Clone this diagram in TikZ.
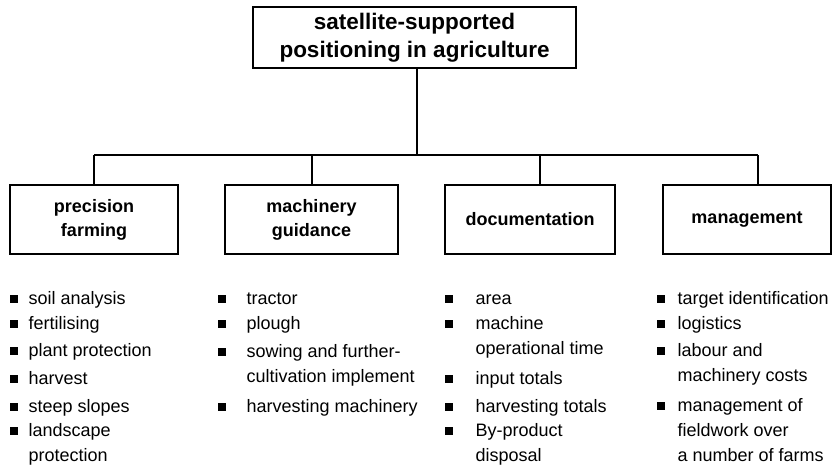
\documentclass[tikz,border=0pt]{standalone}
\usepackage{fontspec}
\setmainfont{Liberation Sans}

\begin{document}
\begin{tikzpicture}[x=1pt,y=-1pt,line width=1.1pt,
    topbox/.style={draw, minimum width=323pt, minimum height=61pt, align=center,
      font=\fontsize{22.5}{28}\selectfont\bfseries},
    catbox/.style={draw, minimum height=69pt, align=center,
      font=\fontsize{18}{24}\selectfont\bfseries},
    item/.style={anchor=base west, align=left, inner sep=0pt,
      font=\fontsize{18}{25}\selectfont}]
      \useasboundingbox (0,0) rectangle (834,466);
      \def\skip{25}

      \node[topbox] (root) at (414.5,37.5) {satellite-supported\\positioning in agriculture};

      \node[catbox, minimum width=168pt] (pf)  at (94,219.5)  {precision\\farming};
      \node[catbox, minimum width=173pt] (mg)  at (311.5,219.5) {machinery\\guidance};
      \node[catbox, minimum width=170pt] (doc) at (530,219.5) {documentation};
      \node[catbox, minimum width=168pt] (man) at (747,219.5) {management};

      % tree
      \coordinate (bar) at (417,155);
      \coordinate (j1) at (94,155);
      \coordinate (j2) at (312,155);
      \coordinate (j3) at (540,155);
      \coordinate (j4) at (758,155);
      \draw (bar |- root.south) -- (bar);
      \draw (j1) -- (j4);
      \foreach \j/\b in {j1/pf, j2/mg, j3/doc, j4/man} {
        \draw (\j) -- (\j |- \b.north);
      }

      % lists (\y = first baseline, \n = number of lines)
      \foreach \y/\n/\txt [count=\i] in {304/1/soil analysis, 329/1/fertilising,
          356/1/plant protection, 384/1/harvest, 412/1/steep slopes,
          436/2/{landscape\\protection}} {
        \fill (10,\y-1) rectangle (18,\y-9);
        \node[item] (pf-\i) at (28,\y+\skip*\n-\skip) {\txt};
      }
      \foreach \y/\n/\txt [count=\i] in {304/1/tractor, 329/1/plough,
          357/2/{sowing and further-\\cultivation implement}, 412/1/harvesting machinery} {
        \fill (218,\y-1) rectangle (226,\y-9);
        \node[item] (mg-\i) at (246,\y+\skip*\n-\skip) {\txt};
      }
      \foreach \y/\n/\txt [count=\i] in {304/1/area, 329/2/{machine\\operational time},
          384/1/input totals, 412/1/harvesting totals, 436/2/{By-product\\disposal}} {
        \fill (445,\y-1) rectangle (453,\y-9);
        \node[item] (doc-\i) at (475,\y+\skip*\n-\skip) {\txt};
      }
      \foreach \y/\n/\txt [count=\i] in {304/1/target identification, 329/1/logistics,
          356/2/{labour and\\machinery costs},
          411/3/{management of\\fieldwork over\\a number of farms}} {
        \fill (657,\y-1) rectangle (665,\y-9);
        \node[item] (man-\i) at (677,\y+\skip*\n-\skip) {\txt};
      }
    \end{tikzpicture}
\end{document}
